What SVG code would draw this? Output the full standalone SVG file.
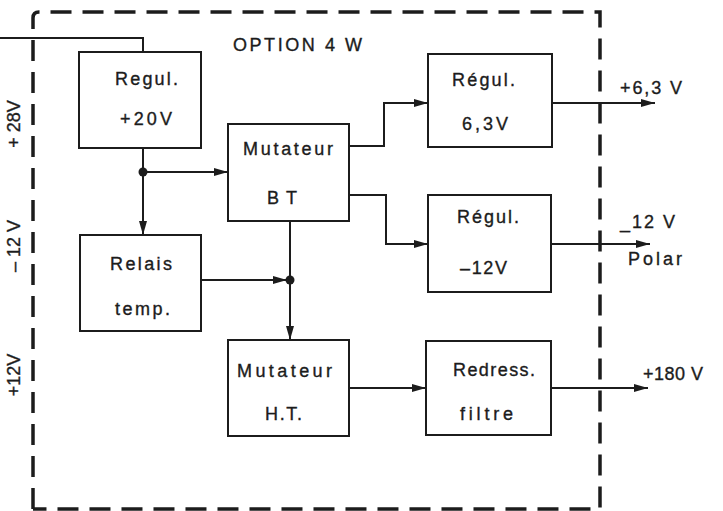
<svg xmlns="http://www.w3.org/2000/svg" width="723" height="511" viewBox="0 0 723 511">
<style>
.box{fill:none;stroke:#1c1c1c;stroke-width:2}
.ln{fill:none;stroke:#1c1c1c;stroke-width:2}
.arr{marker-end:url(#ah)}
.t{font-family:"Liberation Sans",Arial,sans-serif;font-size:18px;fill:#1c1c1c;stroke:#1c1c1c;stroke-width:0.35}
.border{fill:none;stroke:#1c1c1c;stroke-width:3.5;stroke-dasharray:21 11}
</style>
<defs>
<marker id="ah" viewBox="0 0 14 10" refX="14" refY="5" markerWidth="14" markerHeight="10" markerUnits="userSpaceOnUse" orient="auto">
<path d="M0,1 L14,5 L0,9 z" fill="#1c1c1c"/>
</marker>
</defs>
<rect width="723" height="511" fill="#ffffff"/>
<path class="border" d="M33,509 L33,18 Q33,12 39,12 L600,12 L600,509 L33,509"/>
<text class="t" x="233" y="51" textLength="129" lengthAdjust="spacing">OPTION 4 W</text>
<g id="side-labels">
<text class="t" x="20" y="124" text-anchor="middle" transform="rotate(-90 20 124)">+ 28V</text>
<text class="t" x="20" y="246" text-anchor="middle" transform="rotate(-90 20 246)">– 12 V</text>
<text class="t" x="20" y="375" text-anchor="middle" transform="rotate(-90 20 375)">+12V</text>
</g>
<g id="connectors">
<path class="ln" d="M0,38 L143,38 L143,52"/>
<path class="ln" d="M143,148 L143,172"/>
<path class="ln arr" d="M143,172 L228,172"/>
<path class="ln arr" d="M143,172 L143,235"/>
<circle cx="143" cy="172" r="4.5" fill="#1c1c1c"/>
<path class="ln arr" d="M349,146 L384,146 L384,103 L428,103"/>
<path class="ln arr" d="M349,195 L386,195 L386,244 L428,244"/>
<path class="ln arr" d="M552,103 L655,103"/>
<path class="ln arr" d="M551,244 L650,244"/>
<path class="ln arr" d="M201,280 L287,280"/>
<path class="ln arr" d="M290,221 L290,340"/>
<circle cx="290" cy="280" r="4.5" fill="#1c1c1c"/>
<path class="ln arr" d="M349,388 L426,388"/>
<path class="ln arr" d="M551,388 L648,388"/>
</g>
<g id="regul20">
<rect class="box" x="79" y="52" width="122" height="96"/>
<text class="t" x="115" y="85" textLength="63" lengthAdjust="spacing">Regul.</text>
<text class="t" x="120" y="125" textLength="52" lengthAdjust="spacing">+20V</text>
</g>
<g id="mutbt">
<rect class="box" x="228" y="124" width="121" height="97"/>
<text class="t" x="243" y="155" textLength="90" lengthAdjust="spacing">Mutateur</text>
<text class="t" x="267" y="204" textLength="30" lengthAdjust="spacing">B T</text>
</g>
<g id="regul63">
<rect class="box" x="428" y="54" width="124" height="93"/>
<text class="t" x="452" y="86" textLength="63" lengthAdjust="spacing">Régul.</text>
<text class="t" x="462" y="130" textLength="46" lengthAdjust="spacing">6,3V</text>
</g>
<g id="regulm12">
<rect class="box" x="428" y="195" width="123" height="97"/>
<text class="t" x="457" y="223" textLength="62" lengthAdjust="spacing">Régul.</text>
<text class="t" x="460" y="274" textLength="47" lengthAdjust="spacing">–12V</text>
</g>
<g id="relais">
<rect class="box" x="80" y="235" width="121" height="96"/>
<text class="t" x="110" y="270" textLength="62" lengthAdjust="spacing">Relais</text>
<text class="t" x="115" y="315" textLength="55" lengthAdjust="spacing">temp.</text>
</g>
<g id="mutht">
<rect class="box" x="228" y="340" width="121" height="96"/>
<text class="t" x="237" y="377" textLength="95" lengthAdjust="spacing">Mutateur</text>
<text class="t" x="265" y="420" textLength="37" lengthAdjust="spacing">H.T.</text>
</g>
<g id="redress">
<rect class="box" x="426" y="341" width="125" height="94"/>
<text class="t" x="453" y="376" textLength="82" lengthAdjust="spacing">Redress.</text>
<text class="t" x="460" y="420" textLength="53" lengthAdjust="spacing">filtre</text>
</g>
<g id="outputs">
<text class="t" x="620" y="94" textLength="62" lengthAdjust="spacing">+6,3 V</text>
<text class="t" x="620" y="228" textLength="55" lengthAdjust="spacing">_12 V</text>
<text class="t" x="628" y="265" textLength="54" lengthAdjust="spacing">Polar</text>
<text class="t" x="643" y="380" textLength="60" lengthAdjust="spacing">+180 V</text>
</g>
</svg>
